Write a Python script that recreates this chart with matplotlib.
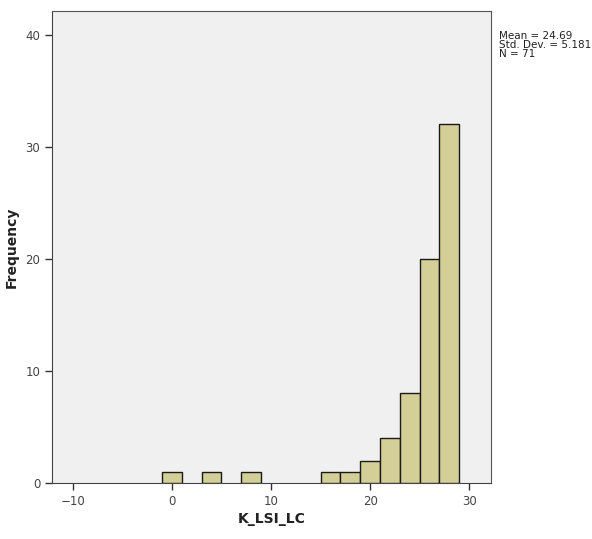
import numpy as np
import matplotlib.pyplot as plt

# histogram of K_LSI_LC, bins of width 2
bin_left = [-1, 3, 7, 15, 17, 19, 21, 23, 25, 27]
counts = [1, 1, 1, 1, 1, 2, 4, 8, 20, 32]
bin_width = 2
x_ticks = [-10, 0, 10, 20, 30]
y_ticks = [0, 10, 20, 30, 40]
stats_text = "Mean = 24.69\nStd. Dev. = 5.181\nN = 71"

fig = plt.figure(figsize=(5.92, 5.39), dpi=100)
ax = fig.add_axes([52 / 592, 1 - 483 / 539, (491 - 52) / 592, (483 - 11) / 539])
ax.set_facecolor("#f0f0f0")

ax.bar(bin_left, counts, width=bin_width, align="edge",
       color="#d4cf97", edgecolor="#1a1a1a", linewidth=1.0, zorder=3)

ax.set_xlim(-12.1, 32.2)
ax.set_ylim(0, 42.1)
ax.set_xticks(x_ticks)
ax.set_yticks(y_ticks)
ax.tick_params(axis="both", direction="out", length=5, width=1,
               colors="#333333", labelsize=8.5, labelcolor="#444444")

for side in ["top", "right"]:
    ax.spines[side].set_color("#555555")
for side in ["left", "bottom"]:
    ax.spines[side].set_color("#444444")

ax.set_xlabel("K_LSI_LC", fontsize=10, fontweight="bold", color="#222222", labelpad=3)
ax.set_ylabel("Frequency", fontsize=10, fontweight="bold", color="#222222", labelpad=4.5)

fig.text(499 / 592, 1 - 31 / 539, stats_text, fontsize=7.5, color="#222222",
         va="top", ha="left", linespacing=0.9)

fig.savefig("out.png", dpi=100, facecolor="white")
